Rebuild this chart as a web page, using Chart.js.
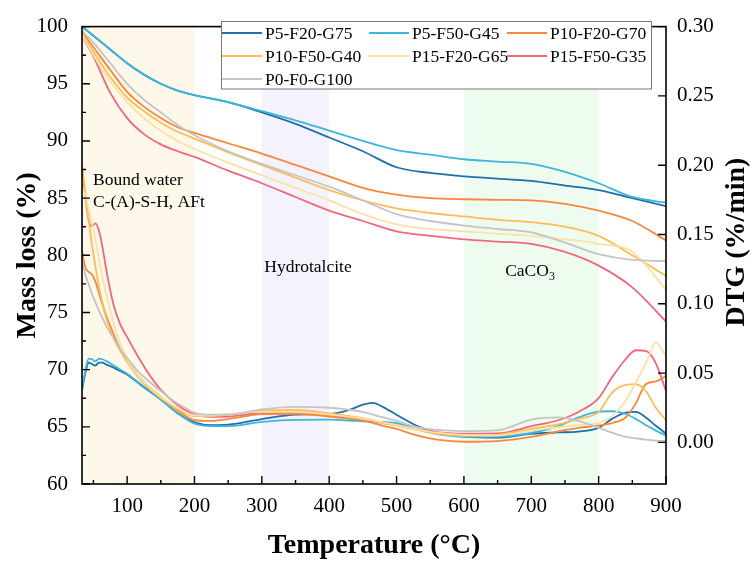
<!DOCTYPE html>
<html>
<head>
<meta charset="utf-8">
<script src="https://cdn.jsdelivr.net/npm/chart.js@4.4.1/dist/chart.umd.min.js"></script>
<style>
  body { margin: 0; background: #fff; }
  #wrap { width: 755px; height: 567px; }
</style>
</head>
<body>
<div id="wrap"><canvas id="tgChart"></canvas></div>
<script>
// series names (legend order)
const sampleNames = ["P5-F20-G75", "P5-F50-G45", "P10-F20-G70", "P10-F50-G40", "P15-F20-G65", "P15-F50-G35", "P0-F0-G100"];
const sampleColors = ["#1f6fa8", "#3cb6dd", "#f7883b", "#fbbd57", "#fde0a3", "#f2667b", "#c4c4c4"];

// TG curves (left axis, %)
const tgTemps = [33, 50, 75, 100, 125, 150, 175, 200, 250, 300, 350, 400, 450, 500, 550, 600, 650, 700, 750, 800, 850, 900];
const tgP5F20G75 = [100, 99.2, 98.0, 96.8, 95.8, 95.0, 94.4, 94.0, 93.4, 92.5, 91.5, 90.3, 89.1, 87.7, 87.2, 86.9, 86.7, 86.5, 86.1, 85.7, 85.0, 84.3];
const tgP5F50G45 = [100, 99.2, 98.0, 96.8, 95.8, 95.0, 94.4, 94.0, 93.4, 92.6, 91.8, 90.9, 90.0, 89.2, 88.8, 88.4, 88.2, 88.0, 87.3, 86.3, 85.1, 84.6];
const tgP10F20G70 = [99.5, 98.2, 96.2, 94.3, 93.0, 92.0, 91.2, 90.7, 89.8, 88.9, 87.9, 86.9, 85.9, 85.3, 85.0, 84.9, 84.85, 84.8, 84.5, 83.9, 83.0, 81.3];
const tgP10F50G40 = [99.4, 97.8, 95.6, 93.8, 92.6, 91.6, 90.8, 90.2, 89.0, 87.9, 86.8, 85.7, 84.8, 84.1, 83.7, 83.4, 83.1, 82.9, 82.5, 81.7, 80.0, 78.2];
const tgP15F20G65 = [99.3, 97.5, 95.2, 93.4, 92.0, 90.9, 90.0, 89.3, 88.1, 87.0, 85.9, 84.8, 83.6, 82.7, 82.3, 82.1, 81.9, 81.7, 81.4, 81.0, 80.3, 77.0];
const tgP15F50G35 = [99.2, 97.4, 94.2, 92.0, 90.6, 89.7, 89.1, 88.6, 87.4, 86.3, 85.1, 83.9, 83.0, 82.1, 81.7, 81.4, 81.2, 81.0, 80.3, 79.1, 77.2, 74.2];
const tgP0F0G100 = [99.6, 98.6, 96.8, 95.0, 93.6, 92.5, 91.4, 90.5, 89.1, 88.0, 87.0, 86.0, 84.8, 83.6, 83.0, 82.6, 82.3, 82.0, 81.1, 80.1, 79.6, 79.5];

// DTG curves (right axis, %/min)
const dtgTemps = [33, 38, 43, 48, 53, 58, 63, 70, 80, 90, 100, 115, 130, 150, 175, 200, 225, 250, 300, 350, 400, 430, 450, 465, 480, 500, 530, 560, 600, 650, 700, 740, 770, 800, 820, 840, 855, 870, 885, 900];
const dtgP5F20G75 = [0.038, 0.050, 0.0575, 0.0565, 0.0555, 0.0575, 0.0575, 0.056, 0.054, 0.0515, 0.049, 0.0435, 0.038, 0.031, 0.021, 0.0145, 0.0125, 0.0128, 0.0168, 0.020, 0.0205, 0.0235, 0.0272, 0.0285, 0.0255, 0.020, 0.012, 0.007, 0.0042, 0.0035, 0.0062, 0.0072, 0.0078, 0.0105, 0.017, 0.0215, 0.022, 0.018, 0.012, 0.0063];
const dtgP5F50G45 = [0.038, 0.052, 0.0605, 0.060, 0.0585, 0.0605, 0.060, 0.0585, 0.0555, 0.0525, 0.0495, 0.044, 0.0385, 0.031, 0.021, 0.0135, 0.0118, 0.0118, 0.0148, 0.0163, 0.0164, 0.0158, 0.0152, 0.015, 0.0148, 0.014, 0.0095, 0.006, 0.004, 0.0042, 0.0068, 0.0118, 0.018, 0.0222, 0.0225, 0.0205, 0.017, 0.0125, 0.0085, 0.005];
const dtgP10F20G70 = [0.138, 0.126, 0.123, 0.121, 0.116, 0.108, 0.100, 0.090, 0.078, 0.067, 0.060, 0.049, 0.041, 0.033, 0.023, 0.016, 0.0155, 0.0168, 0.0204, 0.0207, 0.0187, 0.017, 0.016, 0.014, 0.012, 0.0098, 0.005, 0.002, 0.0005, 0.001, 0.004, 0.008, 0.0105, 0.0122, 0.014, 0.018, 0.028, 0.042, 0.044, 0.048];
const dtgP10F50G40 = [0.200, 0.180, 0.160, 0.142, 0.127, 0.113, 0.101, 0.088, 0.075, 0.066, 0.058, 0.048, 0.040, 0.032, 0.024, 0.019, 0.019, 0.020, 0.023, 0.0235, 0.021, 0.019, 0.0175, 0.016, 0.014, 0.012, 0.009, 0.006, 0.0047, 0.0055, 0.0098, 0.013, 0.017, 0.022, 0.036, 0.0415, 0.042, 0.037, 0.025, 0.016];
const dtgP15F20G65 = [0.185, 0.178, 0.168, 0.158, 0.146, 0.133, 0.120, 0.105, 0.086, 0.071, 0.060, 0.049, 0.041, 0.033, 0.025, 0.0195, 0.0195, 0.0205, 0.022, 0.022, 0.020, 0.0185, 0.017, 0.016, 0.0145, 0.0125, 0.0095, 0.007, 0.0055, 0.005, 0.0085, 0.011, 0.0125, 0.014, 0.019, 0.030, 0.043, 0.057, 0.072, 0.062];
const dtgP15F50G35 = [0.197, 0.178, 0.160, 0.156, 0.158, 0.153, 0.142, 0.122, 0.099, 0.085, 0.076, 0.063, 0.051, 0.038, 0.027, 0.020, 0.0185, 0.0187, 0.0215, 0.022, 0.0196, 0.018, 0.0168, 0.0155, 0.014, 0.0125, 0.0095, 0.0075, 0.0063, 0.0065, 0.0117, 0.016, 0.022, 0.032, 0.047, 0.060, 0.0665, 0.066, 0.057, 0.037];
const dtgP0F0G100 = [0.132, 0.121, 0.114, 0.107, 0.101, 0.095, 0.090, 0.083, 0.075, 0.067, 0.061, 0.052, 0.045, 0.037, 0.028, 0.0215, 0.020, 0.020, 0.0239, 0.0257, 0.025, 0.0235, 0.022, 0.020, 0.018, 0.0155, 0.011, 0.009, 0.0082, 0.0087, 0.0165, 0.018, 0.0155, 0.0105, 0.007, 0.004, 0.003, 0.002, 0.0013, 0.001];

// ticks
const xTicks = [100, 200, 300, 400, 500, 600, 700, 800, 900];
const xMinorTicks = [50, 150, 250, 350, 450, 550, 650, 750, 850];
const yTicks = [60, 65, 70, 75, 80, 85, 90, 95, 100];
const yMinorTicks = [62.5, 67.5, 72.5, 77.5, 82.5, 87.5, 92.5, 97.5];
const y2Ticks = [0, 0.05, 0.10, 0.15, 0.20, 0.25, 0.30];

// shaded regions [from, to, colour]
const regions = [[33, 200, "#fdf8ea"], [300, 400, "#f4f3fd"], [600, 800, "#eefcf0"]];

const tgSeries = [tgP5F20G75, tgP5F50G45, tgP10F20G70, tgP10F50G40, tgP15F20G65, tgP15F50G35, tgP0F0G100];
const dtgSeries = [dtgP5F20G75, dtgP5F50G45, dtgP10F20G70, dtgP10F50G40, dtgP15F20G65, dtgP15F50G35, dtgP0F0G100];

const FONT = "'Liberation Serif', 'Times New Roman', serif";

function lineSet(name, temps, vals, color, axis) {
  return {
    label: name,
    data: temps.map((t, i) => ({ x: t, y: vals[i] })),
    borderColor: color,
    borderWidth: 1.8,
    pointRadius: 0,
    fill: false,
    cubicInterpolationMode: "monotone",
    yAxisID: axis
  };
}

const datasets = [];
sampleNames.forEach((n, i) => {
  datasets.push(lineSet(n, tgTemps, tgSeries[i], sampleColors[i], "y"));
  datasets.push(lineSet(n + " DTG", dtgTemps, dtgSeries[i], sampleColors[i], "y2"));
});
// draw the grey and pale ones first so the strong colours stay on top
datasets.sort((a, b) => {
  const order = [6, 4, 3, 2, 5, 1, 0];
  return order.indexOf(sampleNames.indexOf(a.label.replace(" DTG", ""))) -
         order.indexOf(sampleNames.indexOf(b.label.replace(" DTG", "")));
});

const decor = {
  id: "decor",
  beforeDatasetsDraw(chart) {
    const { ctx, chartArea: a, scales: { x } } = chart;
    ctx.save();
    regions.forEach(r => {
      const x1 = x.getPixelForValue(r[0]), x2 = x.getPixelForValue(r[1]);
      ctx.fillStyle = r[2];
      ctx.fillRect(x1, a.top, x2 - x1, a.bottom - a.top);
    });
    ctx.restore();
  },
  afterDraw(chart) {
    const { ctx, chartArea: a, scales: { x, y, y2 } } = chart;
    ctx.save();
    // frame
    ctx.strokeStyle = "#000";
    ctx.lineWidth = 1.6;
    ctx.strokeRect(a.left, a.top, a.right - a.left, a.bottom - a.top);
    // inward ticks
    ctx.lineWidth = 1.4;
    ctx.beginPath();
    xTicks.forEach(v => { const p = x.getPixelForValue(v); ctx.moveTo(p, a.bottom); ctx.lineTo(p, a.bottom - 8); });
    xMinorTicks.forEach(v => { const p = x.getPixelForValue(v); ctx.moveTo(p, a.bottom); ctx.lineTo(p, a.bottom - 4); });
    yTicks.forEach(v => { const p = y.getPixelForValue(v); ctx.moveTo(a.left, p); ctx.lineTo(a.left + 8, p); });
    yMinorTicks.forEach(v => { const p = y.getPixelForValue(v); ctx.moveTo(a.left, p); ctx.lineTo(a.left + 4, p); });
    y2Ticks.forEach(v => { const p = y2.getPixelForValue(v); ctx.moveTo(a.right, p); ctx.lineTo(a.right - 8, p); });
    ctx.stroke();

    // axis titles
    ctx.fillStyle = "#000";
    ctx.font = "bold 28px " + FONT;
    ctx.textAlign = "center";
    ctx.textBaseline = "middle";
    ctx.fillText("Temperature (°C)", (a.left + a.right) / 2, 546);
    ctx.save();
    ctx.translate(28, (a.top + a.bottom) / 2);
    ctx.rotate(-Math.PI / 2);
    ctx.fillText("Mass loss (%)", 0, 0);
    ctx.restore();
    ctx.save();
    ctx.translate(737, 242);
    ctx.rotate(-Math.PI / 2);
    ctx.fillText("DTG (%/min)", 0, 0);
    ctx.restore();

    // region labels
    ctx.font = "17.5px " + FONT;
    ctx.textAlign = "left";
    ctx.fillText("Bound water", 93, 180);
    ctx.fillText("C-(A)-S-H, AFt", 93, 202);
    ctx.textAlign = "center";
    ctx.fillText("Hydrotalcite", 308, 267);
    ctx.textAlign = "left";
    const caco = "CaCO";
    const w = ctx.measureText(caco).width;
    ctx.fillText(caco, 531 - (w + 8) / 2, 271);
    ctx.font = "12px " + FONT;
    ctx.fillText("3", 531 - (w + 8) / 2 + w, 277);

    // legend box
    ctx.fillStyle = "#fff";
    ctx.fillRect(221, 21, 431, 68);
    ctx.strokeStyle = "#777";
    ctx.lineWidth = 1;
    ctx.strokeRect(221.5, 21.5, 430, 67.5);
    const colX = [222, 369, 507];
    const rowY = [33, 56, 79];
    ctx.font = "17.5px " + FONT;
    ctx.textBaseline = "middle";
    sampleNames.forEach((n, i) => {
      const cx = colX[i % 3], cy = rowY[Math.floor(i / 3)];
      ctx.strokeStyle = sampleColors[i];
      ctx.lineWidth = 1.8;
      ctx.beginPath();
      ctx.moveTo(cx, cy);
      ctx.lineTo(cx + 40, cy);
      ctx.stroke();
      ctx.fillStyle = "#000";
      ctx.fillText(n, cx + 43, cy + 1);
    });
    ctx.restore();
  }
};

const tickFont = { family: FONT, size: 21 };

new Chart(document.getElementById("tgChart"), {
  type: "line",
  data: { datasets: datasets },
  options: {
    responsive: true,
    maintainAspectRatio: false,
    animation: false,
    layout: { padding: { top: 13, left: 0, right: 0, bottom: 0 } },
    plugins: { legend: { display: false }, tooltip: { enabled: false } },
    scales: {
      x: {
        type: "linear",
        min: 33,
        max: 900,
        grid: { display: true, drawOnChartArea: false, drawTicks: false },
        border: { display: false },
        ticks: { font: tickFont, color: "#000", padding: 10, maxRotation: 0 },
        afterBuildTicks: s => { s.ticks = xTicks.map(v => ({ value: v })); },
        afterFit: s => { s.height = 83; }
      },
      y: {
        position: "left",
        min: 60,
        max: 100,
        grid: { display: true, drawOnChartArea: false, drawTicks: false },
        border: { display: false },
        ticks: { font: tickFont, color: "#000", padding: 14 },
        afterBuildTicks: s => { s.ticks = yTicks.map(v => ({ value: v })); },
        afterFit: s => { s.width = 82; }
      },
      y2: {
        position: "right",
        min: -0.03,
        max: 0.30,
        grid: { display: true, drawOnChartArea: false, drawTicks: false },
        border: { display: false },
        ticks: { font: tickFont, color: "#000", padding: 11, callback: v => v.toFixed(2) },
        afterBuildTicks: s => { s.ticks = y2Ticks.map(v => ({ value: v })); },
        afterFit: s => { s.width = 89; }
      }
    }
  },
  plugins: [decor]
});
</script>
</body>
</html>
